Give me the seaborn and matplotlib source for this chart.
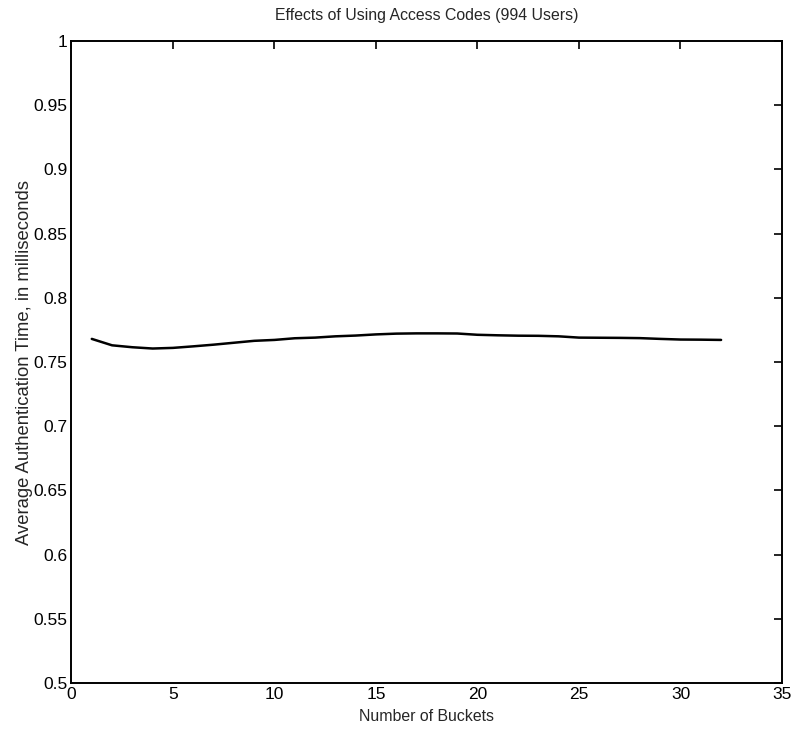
import numpy as np
import pandas as pd
import matplotlib
matplotlib.use("Agg")
import matplotlib.pyplot as plt
import seaborn as sns

# number of buckets vs average auth time (ms)
buckets = list(range(1, 33))
avg_time = [0.7680, 0.7630, 0.7615, 0.7605, 0.7610, 0.7622, 0.7635, 0.7650,
            0.7665, 0.7672, 0.7685, 0.7690, 0.7700, 0.7706, 0.7715, 0.7721,
            0.7723, 0.7723, 0.7722, 0.7712, 0.7708, 0.7705, 0.7704, 0.7700,
            0.7690, 0.7689, 0.7688, 0.7686, 0.7680, 0.7675, 0.7674, 0.7672]

x_ticks = [0, 5, 10, 15, 20, 25, 30, 35]
y_ticks = [0.5, 0.55, 0.6, 0.65, 0.7, 0.75, 0.8, 0.85, 0.9, 0.95, 1]
y_tick_labels = ["0.5", "0.55", "0.6", "0.65", "0.7", "0.75", "0.8", "0.85", "0.9", "0.95", "1"]

sns.set_style("white")
plt.rcParams["font.family"] = ["Liberation Sans", "DejaVu Sans"]

df = pd.DataFrame({"buckets": buckets, "time": avg_time})

fig = plt.figure(figsize=(7.96, 7.30), dpi=100)
ax = fig.add_axes([0.0898, 0.0644, 0.8926, 0.8794])

sns.lineplot(data=df, x="buckets", y="time", ax=ax, color="black", lw=1.8)

ax.set_xlim(0, 35)
ax.set_ylim(0.5, 1)
ax.set_xticks(x_ticks)
ax.set_xticklabels([str(t) for t in x_ticks])
ax.set_yticks(y_ticks)
ax.set_yticklabels(y_tick_labels)
ax.tick_params(direction="in", length=6, width=1.2, top=True, right=True,
               labelsize=12.5, colors="black", pad=3)
for s in ax.spines.values():
    s.set_linewidth(1.4)
    s.set_color("black")

ax.set_title("Effects of Using Access Codes (994 Users)", fontsize=11.4, pad=15)
ax.set_xlabel("Number of Buckets", fontsize=11.4, labelpad=5)
ax.set_ylabel("Average Authentication Time, in milliseconds", fontsize=13.3, labelpad=0)

fig.savefig("out.png", dpi=100)
